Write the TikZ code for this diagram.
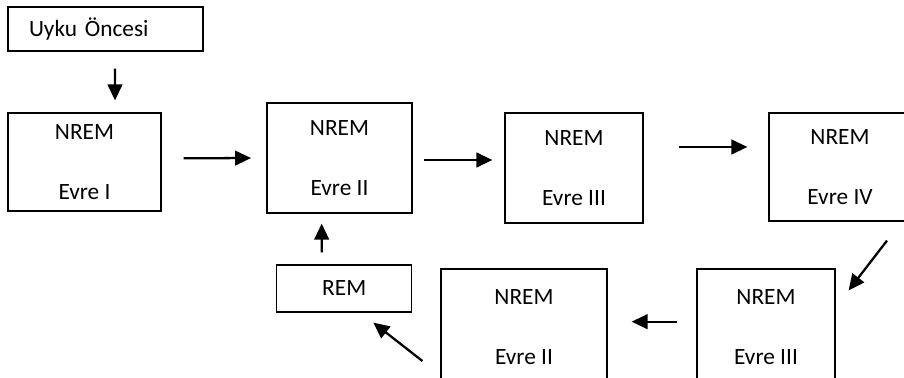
\documentclass[tikz,border=0pt]{standalone}
\usepackage{fontspec}
\setmainfont{Carlito}
\usepackage{tikz}
\usetikzlibrary{arrows.meta, positioning, calc}

\begin{document}
\begin{tikzpicture}[
    x=0.75pt, y=-0.75pt,
    font=\fontsize{17.5}{21}\selectfont,
    stage/.style={rectangle, draw, line width=0.9pt, align=center, inner sep=0pt},
    arr/.style={-{Triangle[length=12pt, width=11pt]}, line width=1.7pt}
]
\useasboundingbox (0,0) rectangle (904,378);
\clip (0,0) rectangle (904,378);

\node[stage, align=left, text width=114.75pt, inner xsep=15.75pt, minimum height=33pt] (pre) at (105.5,29) {Uyku Öncesi};
\node[stage, minimum width=114.75pt, minimum height=73.5pt] (s1) at (84.5,162) {NREM\\[23.5pt]Evre I};
\node[stage, minimum width=108.75pt, minimum height=82.5pt] (s2) at (339.5,158) {NREM\\[23.5pt]Evre II};
\node[stage, minimum width=103.5pt, minimum height=82.5pt] (s3) at (574,168) {NREM\\[23.5pt]Evre III};
\node[stage, minimum width=106.5pt, minimum height=81pt] (s4) at (840,167) {NREM\\[23.5pt]Evre IV};
\node[stage, minimum width=103.5pt, minimum height=87pt] (s3b) at (766,327) {NREM\\[23.5pt]Evre III};
\node[stage, minimum width=124.5pt, minimum height=87pt] (s2b) at (524,327) {NREM\\[23.5pt]Evre II};
\node[stage, minimum width=101.25pt, minimum height=35.25pt] (rem) at (344.2,288.5) {REM};

\draw[arr, shorten <=12.75pt, shorten >=9pt] ([xshift=7.1pt]pre.south) -- ([xshift=22.9pt]s1.north);
\draw[arr, shorten <=16.5pt, shorten >=11.5pt] ([yshift=2.75pt]s1.east) -- (s2.west);
\draw[arr, shorten <=8.25pt, shorten >=9pt] ([yshift=-1.5pt]s2.east) -- ([yshift=6pt]s3.west);
\draw[arr, shorten <=26.25pt, shorten >=15.75pt] ([yshift=15.75pt]s3.east) -- ([yshift=15pt]s4.west);
\draw[arr] ([xshift=35.25pt, yshift=-14.25pt]s4.south) -- ([xshift=9.75pt, yshift=-16.5pt]s3b.north east);
\draw[arr, shorten <=14.25pt, shorten >=18pt] ([yshift=4pt]s3b.west) -- ([yshift=4pt]s2b.east);
\draw[arr] ([xshift=-13.5pt, yshift=-25.5pt]s2b.west) -- ([xshift=-29.25pt, yshift=-7.5pt]rem.south east);
\draw[arr, shorten <=9pt, shorten >=7.5pt] ([xshift=-16.9pt]rem.north) -- ([xshift=-13.35pt]s2.south);

\end{tikzpicture}
\end{document}
